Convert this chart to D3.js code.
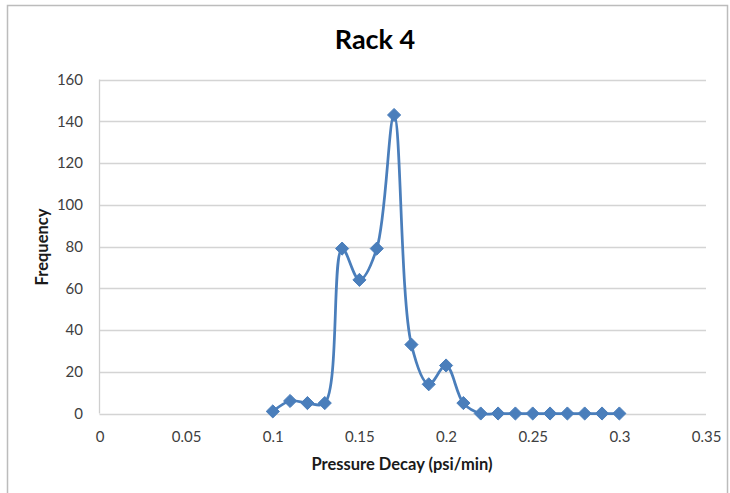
<!DOCTYPE html>
<html>
<head>
<meta charset="utf-8">
<script src="https://cdn.jsdelivr.net/npm/d3@7"></script>
<style>
  html, body { margin: 0; padding: 0; background: #fff; }
  svg { display: block; }
</style>
</head>
<body>
<svg id="chart" width="730" height="493"></svg>
<script>
// Pressure decay bins (psi/min) and how many parts fell into each
const decay = [0.10, 0.11, 0.12, 0.13, 0.14, 0.15, 0.16, 0.17, 0.18, 0.19, 0.20,
               0.21, 0.22, 0.23, 0.24, 0.25, 0.26, 0.27, 0.28, 0.29, 0.30];
const frequency = [1, 6, 5, 5, 79, 64, 79, 143, 33, 14, 23,
                   5, 0, 0, 0, 0, 0, 0, 0, 0, 0];
const xTicks = [0, 0.05, 0.1, 0.15, 0.2, 0.25, 0.3, 0.35];
const yTicks = [0, 20, 40, 60, 80, 100, 120, 140, 160];

const font = "Lato, 'Open Sans', 'Liberation Sans', sans-serif";
const svg = d3.select("#chart");

// chart frame
svg.append("rect")
  .attr("x", 7.5).attr("y", 5.5)
  .attr("width", 720).attr("height", 500)
  .attr("fill", "#fff").attr("stroke", "#bcbcbc").attr("stroke-width", 1.5);

const x = d3.scaleLinear().domain([0, 0.35]).range([99.5, 706]);
const y = d3.scaleLinear().domain([0, 160]).range([413.5, 79.5]);

// horizontal gridlines
svg.append("g")
  .selectAll("line")
  .data(yTicks)
  .join("line")
  .attr("x1", x(0)).attr("x2", x(0.35))
  .attr("y1", d => Math.round(y(d)) + 0.5).attr("y2", d => Math.round(y(d)) + 0.5)
  .attr("stroke", "#d4d4d4").attr("stroke-width", 1.3);

// vertical axis line
svg.append("line")
  .attr("x1", x(0)).attr("x2", x(0))
  .attr("y1", y(160)).attr("y2", y(0))
  .attr("stroke", "#cfcfcf").attr("stroke-width", 1.3);

// y axis labels
const yAxis = d3.axisLeft(y).tickValues(yTicks).tickSize(0).tickPadding(16.5);
svg.append("g")
  .attr("transform", `translate(${x(0)},0)`)
  .call(yAxis)
  .call(g => g.select(".domain").remove())
  .call(g => g.selectAll("text")
    .attr("fill", "#404040").style("font-family", font).style("font-size", "15px"));

// x axis labels
const xAxis = d3.axisBottom(x).tickValues(xTicks).tickSize(0).tickPadding(18)
  .tickFormat(d => String(d));
svg.append("g")
  .attr("transform", `translate(0,${y(0)})`)
  .call(xAxis)
  .call(g => g.select(".domain").remove())
  .call(g => g.selectAll("text")
    .attr("fill", "#404040").style("font-family", font).style("font-size", "15px"));

// title and axis titles
svg.append("text")
  .attr("x", 375).attr("y", 49)
  .attr("text-anchor", "middle")
  .style("font-family", font).style("font-size", "27px").style("font-weight", "bold")
  .attr("fill", "#000")
  .text("Rack 4");

svg.append("text")
  .attr("x", 402).attr("y", 470)
  .attr("text-anchor", "middle")
  .style("font-family", font).style("font-size", "16.5px").style("font-weight", "bold")
  .attr("fill", "#1a1a1a")
  .text("Pressure Decay (psi/min)");

svg.append("text")
  .attr("transform", "translate(48,247) rotate(-90)")
  .attr("text-anchor", "middle")
  .style("font-family", font).style("font-size", "16.5px").style("font-weight", "bold")
  .attr("fill", "#1a1a1a")
  .text("Frequency");

// smoothed series line
const pts = decay.map((d, i) => [d, frequency[i]]);
const line = d3.line()
  .x(d => x(d[0])).y(d => y(d[1]))
  .curve(d3.curveCatmullRom.alpha(0.5));

svg.append("path")
  .datum(pts)
  .attr("d", line)
  .attr("fill", "none")
  .attr("stroke", "#4a7ebb")
  .attr("stroke-width", 2.75)
  .attr("stroke-linejoin", "round");

// diamond markers
const diamond = d3.symbol().type(d3.symbolDiamond2).size(110);
svg.append("g")
  .selectAll("path")
  .data(pts)
  .join("path")
  .attr("transform", d => `translate(${x(d[0])},${y(d[1])})`)
  .attr("d", diamond)
  .attr("fill", "#4a7ebb")
  .attr("stroke", "#4a7ebb").attr("stroke-width", 1);
</script>
</body>
</html>
